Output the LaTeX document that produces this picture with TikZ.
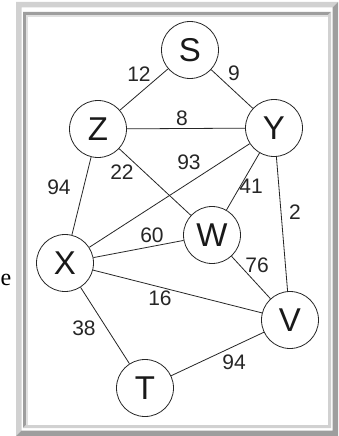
\documentclass[tikz,border=0pt]{standalone}
\usepackage{fontspec}
\setmainfont{Liberation Sans}
\newfontfamily\serifface{Liberation Serif}
\begin{document}
\begin{tikzpicture}[x=1pt,y=-1pt,
  vertex/.style={circle,draw=black!85,line width=0.8pt,minimum size=57pt,inner sep=0pt,
    font=\fontsize{33}{36}\selectfont,text=black!90},
  edge/.style={draw=black!85,line width=0.8pt},
  weight/.style={font=\fontsize{21}{24}\selectfont,text=black!85,inner sep=0pt},
  lightband/.style={fill=black!18},
  darkband/.style={fill=black!38}]
\useasboundingbox (0,0) rectangle (338,436);
\fill[white] (0,0) rectangle (338,436);

% outer raised frame
\fill[lightband] (16,436) -- (16,2) -- (338,2) -- (332.5,7.5) -- (21.5,7.5) -- (21.5,430.5) -- cycle;
\fill[darkband] (338,2) -- (338,436) -- (16,436) -- (21.5,430.5) -- (332.5,430.5) -- (332.5,7.5) -- cycle;
% inner sunken frame
\fill[darkband] (23,428) -- (23,12) -- (331,12) -- (328,15) -- (26,15) -- (26,425) -- cycle;
\fill[lightband] (331,12) -- (331,428) -- (23,428) -- (26,425) -- (328,425) -- (328,15) -- cycle;
\fill[black!12] (26,15) rectangle (28,425);
\fill[black!12] (26,15) rectangle (328,17);

% stray character at the left edge
\node[font=\serifface\fontsize{24}{26}\selectfont,anchor=base east,inner sep=0pt] (tail) at (11.5,285) {e};

% vertices
\node[vertex] (S) at (190,50) {S};
\node[vertex] (Z) at (98,129) {Z};
\node[vertex] (Y) at (274,128) {Y};
\node[vertex] (W) at (212,235) {W};
\node[vertex] (X) at (65,263) {X};
\node[vertex] (V) at (290,320) {V};
\node[vertex] (T) at (145,388) {T};

% edges
\draw[edge] (S) -- (Z);
\draw[edge] (S) -- (Y);
\draw[edge] (Z) -- (Y);
\draw[edge] (Z) -- (X);
\draw[edge] (Z) -- (W);
\draw[edge] (Y) -- (X);
\draw[edge] (Y) -- (W);
\draw[edge] (Y) -- (V);
\draw[edge] (X) -- (W);
\draw[edge] (X) -- (V);
\draw[edge] (W) -- (V);
\draw[edge] (X) -- (T);
\draw[edge] (T) -- (V);

% weights
\node[weight] (wSZ) at (139,74) {12};
\node[weight] (wSY) at (234,73) {9};
\node[weight] (wZY) at (182,118) {8};
\node[weight] (wZX) at (59,187) {94};
\node[weight] (wZW) at (122,172) {22};
\node[weight] (wYX) at (189,162) {93};
\node[weight] (wYW) at (251,186) {41};
\node[weight] (wYV) at (295,212) {2};
\node[weight] (wXW) at (152,235) {60};
\node[weight] (wWV) at (257,265) {76};
\node[weight] (wXV) at (160,298) {16};
\node[weight] (wXT) at (84,328) {38};
\node[weight] (wTV) at (234,362) {94};
\end{tikzpicture}
\end{document}
